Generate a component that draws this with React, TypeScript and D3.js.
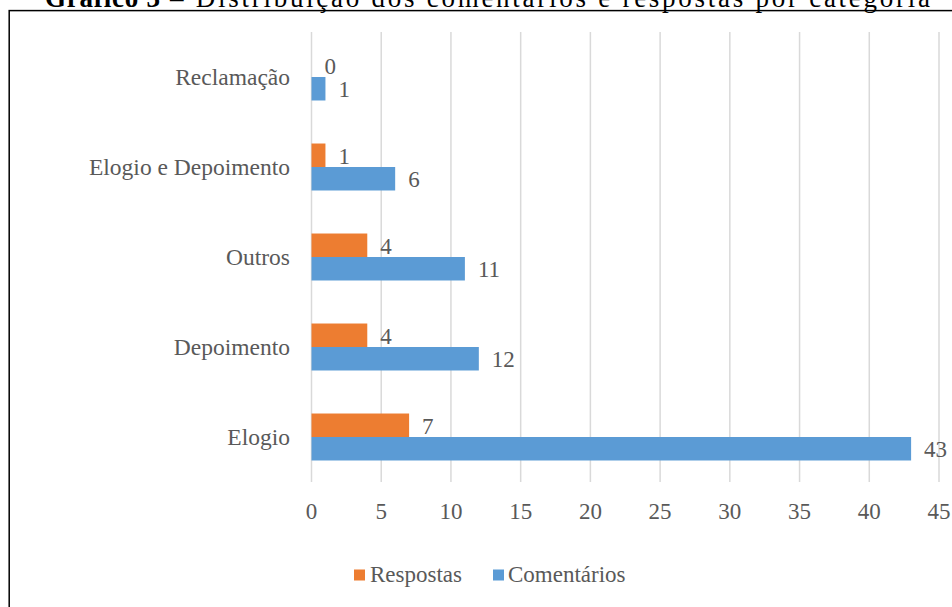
import React from "react";
import * as d3 from "d3";

const categories = ["Reclamação", "Elogio e Depoimento", "Outros", "Depoimento", "Elogio"];
const respostas = [0, 1, 4, 4, 7];
const comentarios = [1, 6, 11, 12, 43];
const seriesNames = ["Respostas", "Comentários"];
const seriesColors = ["#ED7D31", "#5B9BD5"];
const xTicks = [0, 5, 10, 15, 20, 25, 30, 35, 40, 45];
const titleBold = "Gráfico 3";
const titleRest = "– Distribuição dos comentários e respostas por categoria";

const W = 952;
const H = 607;
const FONT = "'Liberation Serif', 'Times New Roman', serif";
const GRAY = "#595959";

export default function App() {
  const x = d3.scaleLinear().domain([0, 45]).range([311.5, 939]);
  const y = d3
    .scaleBand<string>()
    .domain(categories)
    .range([32, 482])
    .paddingInner(0.478)
    .paddingOuter(0.239);
  const sub = d3.scaleBand<string>().domain(seriesNames).range([0, y.bandwidth()]);
  const seriesValues = [respostas, comentarios];

  return (
    <svg
      width={W}
      height={H}
      style={{ position: "absolute", left: 0, top: 0, background: "#fff" }}
      fontFamily={FONT}
    >
      <rect x={0} y={0} width={W} height={H} fill="#fff" />
      {/* Title */}
      <text x={45} y={6.5} fontSize={27} fontWeight="bold" fill="#000" textLength={115} lengthAdjust="spacing">
        {titleBold}
      </text>
      <text x={170} y={6.5} fontSize={27} fill="#000" textLength={760} lengthAdjust="spacing">
        {titleRest}
      </text>
      {/* Border */}
      <rect x={9.2} y={10.6} width={1000} height={700} fill="none" stroke="#000" strokeWidth={1.5} />
      {/* Gridlines */}
      {xTicks.map((t) => (
        <line key={"g" + t} x1={x(t)} x2={x(t)} y1={32} y2={482} stroke="#D9D9D9" strokeWidth={1.5} />
      ))}
      {/* Tick labels */}
      {xTicks.map((t) => (
        <text key={"t" + t} x={x(t)} y={519} fontSize={23} fill={GRAY} textAnchor="middle">
          {t}
        </text>
      ))}
      {/* Category labels */}
      {categories.map((c) => (
        <text
          key={"c" + c}
          x={290}
          y={(y(c) as number) + y.bandwidth() / 2 + 8}
          fontSize={23.5}
          fill={GRAY}
          textAnchor="end"
        >
          {c}
        </text>
      ))}
      {/* Bars */}
      {categories.map((c, i) =>
        seriesNames.map((s, j) => {
          const v = seriesValues[j][i];
          const by = (y(c) as number) + (sub(s) as number);
          const bh = sub.bandwidth();
          return (
            <g key={c + s}>
              {v > 0 && (
                <rect x={x(0)} y={by} width={x(v) - x(0)} height={bh} fill={seriesColors[j]} />
              )}
              <text x={x(v) + 13} y={by + bh / 2 + 8.5} fontSize={23} fill={GRAY}>
                {v}
              </text>
            </g>
          );
        })
      )}
      {/* Legend */}
      <rect x={354} y={569.5} width={11} height={11} fill={seriesColors[0]} />
      <text x={370} y={582} fontSize={23} fill={GRAY}>
        {seriesNames[0]}
      </text>
      <rect x={493} y={569.5} width={11} height={11} fill={seriesColors[1]} />
      <text x={508} y={582} fontSize={23} fill={GRAY}>
        {seriesNames[1]}
      </text>
    </svg>
  );
}
